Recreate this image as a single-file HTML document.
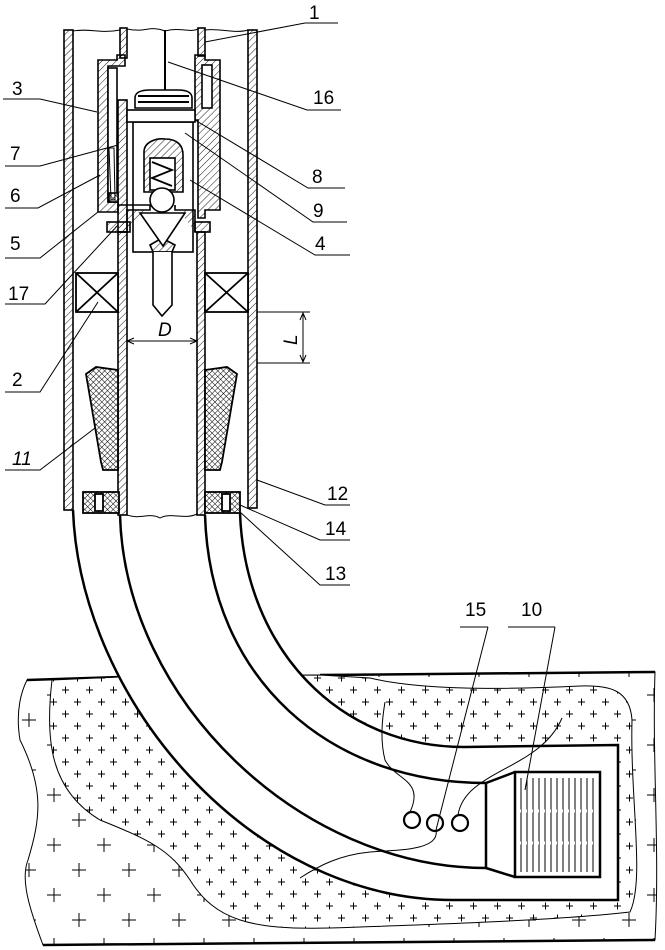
<!DOCTYPE html>
<html><head><meta charset="utf-8"><style>
html,body{margin:0;padding:0;background:#fff}
svg{display:block}
text{font-family:"Liberation Sans",sans-serif;font-size:19px;fill:#000}
</style></head><body>
<svg width="665" height="950" viewBox="0 0 665 950" xmlns="http://www.w3.org/2000/svg">
<defs>
<pattern id="h" patternUnits="userSpaceOnUse" width="5" height="5" patternTransform="rotate(45)">
<line x1="0" y1="0" x2="0" y2="5" stroke="#000" stroke-width="0.9"/></pattern>
<pattern id="x" patternUnits="userSpaceOnUse" width="4" height="4" patternTransform="rotate(45)">
<rect width="4" height="4" fill="#fff"/><line x1="0" y1="0" x2="0" y2="4" stroke="#000" stroke-width="1"/><line x1="0" y1="0" x2="4" y2="0" stroke="#000" stroke-width="1"/></pattern>
<pattern id="sp" patternUnits="userSpaceOnUse" width="24" height="24">
<rect width="24" height="24" fill="#fff"/>
<path d="M2,6h7M5.5,2.5v7M14,18h7M17.5,14.5v7" stroke="#000" stroke-width="1"/></pattern>
<pattern id="bp" patternUnits="userSpaceOnUse" width="50" height="50" x="20" y="10">
<rect width="50" height="50" fill="#fff"/>
<path d="M2,10h14M9,3v14M27,35h14M34,28v14" stroke="#000" stroke-width="1"/></pattern>
</defs>

<!-- ground -->
<path d="M27,680 L120,677 L320,675 L655,672 C652,760 660,850 655,940 L43,945 C30,910 20,880 28,860 C40,820 45,790 20,740 C15,710 22,690 27,680 Z" fill="url(#bp)" stroke="#000" stroke-width="1"/>
<path d="M27,680 L120,677 M320,675 L655,672 M43,945 L655,940" stroke="#000" stroke-width="2.5" fill="none"/>
<path d="M52,680 C45,740 50,790 100,820 C150,840 170,850 190,880 C215,920 250,930 330,928 C450,924 560,920 630,912 C645,880 630,800 632,720 C630,690 610,685 580,686 C500,690 420,690 370,678 L320,675 L120,677 Z" fill="url(#sp)" stroke="#000" stroke-width="1"/>

<!-- tube -->
<path d="M73,510 C80,700 250,900 453,900 L618,900 L618,745 L464,747 C340,747 245,650 240,513 Z" fill="#fff"/>
<g fill="none" stroke="#000" stroke-width="2.5">
<path d="M73,510 C80,700 250,900 453,900 L618,900 L618,745 L464,747 C340,747 245,650 240,513"/>
<path d="M120,515 C125,700 300,868 486,868"/>
<path d="M205,515 C210,680 330,783 486,783"/>
<path d="M486,783 L486,868 M486,783 L515,772 M486,868 L515,877"/>
<rect x="515" y="772" width="85" height="105"/>
</g>
<g stroke="#000" stroke-width="1">
<path d="M521,778v94M527,778v94M533,778v94M539,778v94M545,778v94M551,778v94M557,778v94M563,778v94M569,778v94M575,778v94M581,778v94M587,778v94M593,778v94"/>
</g>
<path d="M517,811h81M517,843h81" stroke="#fff" stroke-width="3" stroke-dasharray="4 2"/>
<g fill="none" stroke="#000" stroke-width="2.2">
<circle cx="412" cy="820" r="8"/><circle cx="435" cy="823" r="8"/><circle cx="460" cy="823" r="8"/>
</g>
<g fill="none" stroke="#000" stroke-width="1">
<path d="M410,812 C425,780 395,780 385,760 C380,740 382,720 385,702"/>
<path d="M458,815 C465,770 540,770 562,718"/>
<path d="M436,830 C440,850 400,850 370,852 C340,855 320,865 300,878"/>
<path d="M488,627 L436,830 M460,627 H488"/>
<path d="M555,627 L525,790 M508,627 H555"/>
</g>
<text x="465" y="616">15</text><text x="521" y="616">10</text>

<!-- casings -->
<g stroke="#000" stroke-width="1.6">
<rect x="64" y="30" width="9" height="480" fill="url(#h)"/>
<rect x="248" y="30" width="9" height="478" fill="url(#h)"/>
<rect x="120" y="28" width="7" height="30" fill="url(#h)"/>
<rect x="198" y="28" width="7" height="28" fill="url(#h)"/>
<rect x="118" y="232" width="9" height="283" fill="url(#h)"/>
<rect x="197" y="232" width="8" height="283" fill="url(#h)"/>
</g>
<path d="M73,31 C90,28 100,34 120,30 M127,29 C145,33 150,25 165,31 C180,27 190,33 198,29 M205,30 C220,28 235,34 248,30" stroke="#000" fill="none" stroke-width="1"/>
<path d="M127,515 C140,520 150,512 160,518 C170,512 185,520 197,514" stroke="#000" fill="none" stroke-width="1"/>

<!-- body first -->
<g fill="#fff" stroke="#000" stroke-width="1.6">
<rect x="133" y="122" width="60" height="130"/>
</g>
<!-- housing -->
<g stroke="#000" stroke-width="1.6" fill="url(#h)">
<path d="M98,60 H117 V55 H125 V66 H108 V202 H118 V212 H98 Z"/>
<rect x="118" y="100" width="9" height="132"/>
<path d="M195,55 H205 V60 H220 V210 H205 V218 H198 V120 H195 Z"/>
<rect x="107" y="222" width="23" height="10"/>
<rect x="195" y="222" width="15" height="10"/>
<path d="M144,192 V152 C144,142 156,138 165,139 C178,139 183,146 183,155 V192 Z"/>
<path d="M127,232 V210 H150 V205 M175,205 V210 H195 V232"/>
<path d="M150,245 L162,238 L175,245 L172,252 H153 Z"/>
</g>
<g fill="#fff" stroke="#000" stroke-width="1.6">
<rect x="108" y="68" width="9" height="134"/>
<rect x="202" y="65" width="10" height="43"/>
<rect x="150" y="158" width="25" height="32"/>
<rect x="127" y="110" width="68" height="12"/>
<path d="M135,108 V98 C135,93 140,90 150,90 H178 C188,90 192,93 192,98 V108 Z"/>
<path d="M140,213 L185,213 L163,246 Z"/>
<circle cx="162" cy="200" r="12"/>
<path d="M153,252 V305 L162,316 L172,305 V252"/>
<rect x="109" y="193" width="9" height="9" fill="url(#x)"/>
</g>
<path d="M109,148 L114,148 L115,200 L111,200 Z" fill="none" stroke="#000" stroke-width="1"/>
<path d="M165,30 V90 M138,96 H189 M138,102 H189" stroke="#000" stroke-width="2"/>
<path d="M152,162 L172,170 L152,178 L172,186" stroke="#000" stroke-width="1.8" fill="none"/>
<path d="M118,205 H150" stroke="#000" stroke-width="1.4"/>

<!-- packers -->
<g stroke="#000" stroke-width="1.8" fill="#fff">
<rect x="76" y="273" width="42" height="39"/><path d="M76,273 L118,312 M118,273 L76,312"/>
<rect x="205" y="273" width="43" height="39"/><path d="M205,273 L248,312 M248,273 L205,312"/>
<path d="M86,374 L96,367 L118,370 L118,470 L103,470 L101,462 Z" fill="url(#x)"/>
<path d="M237,374 L227,367 L205,370 L205,470 L220,470 L222,462 Z" fill="url(#x)"/>
<rect x="83" y="492" width="36" height="21" fill="url(#x)"/>
<rect x="95" y="494" width="8" height="17"/>
<rect x="205" y="492" width="35" height="21" fill="url(#x)"/>
<rect x="222" y="494" width="8" height="17"/>
</g>

<!-- dimensions -->
<g stroke="#000" stroke-width="1" fill="none">
<path d="M257,312 H310 M257,363 H310 M303,313 V362 M300,320 L303,313 L306,320 M300,355 L303,362 L306,355"/>
<path d="M127,341 H197 M134,338 L127,341 L134,344 M190,338 L197,341 L190,344"/>
</g>
<text x="158" y="336" font-style="italic">D</text>
<text x="0" y="0" font-style="italic" transform="translate(297,345) rotate(-90)">L</text>

<!-- right labels -->
<g stroke="#000" stroke-width="1" fill="none">
<path d="M205,42 L305,23 H338"/>
<path d="M168,62 L307,110 H341"/>
<path d="M195,120 L308,188 H345"/>
<path d="M185,133 L313,222 H347"/>
<path d="M190,180 L315,255 H350"/>
<path d="M257,480 L325,505 H350"/>
<path d="M240,505 L320,540 H350"/>
<path d="M240,512 L320,585 H350"/>
</g>
<text x="309" y="19">1</text><text x="313" y="104">16</text><text x="312" y="183">8</text>
<text x="313" y="217">9</text><text x="315" y="250">4</text>
<text x="327" y="500">12</text><text x="325" y="535">14</text><text x="325" y="580">13</text>

<!-- left labels -->
<g stroke="#000" stroke-width="1" fill="none">
<path d="M3,99 H40 L97,112"/>
<path d="M5,166 H40 L118,145"/>
<path d="M5,208 H38 L100,175"/>
<path d="M5,258 H40 L98,212"/>
<path d="M5,304 H45 L118,225"/>
<path d="M5,392 H40 L98,302"/>
<path d="M5,470 H40 L95,428"/>
</g>
<text x="12" y="95">3</text><text x="10" y="160">7</text><text x="10" y="202">6</text>
<text x="10" y="250">5</text><text x="8" y="300">17</text><text x="12" y="386">2</text>
<text x="12" y="465" font-style="italic">11</text>
</svg>
</body></html>
